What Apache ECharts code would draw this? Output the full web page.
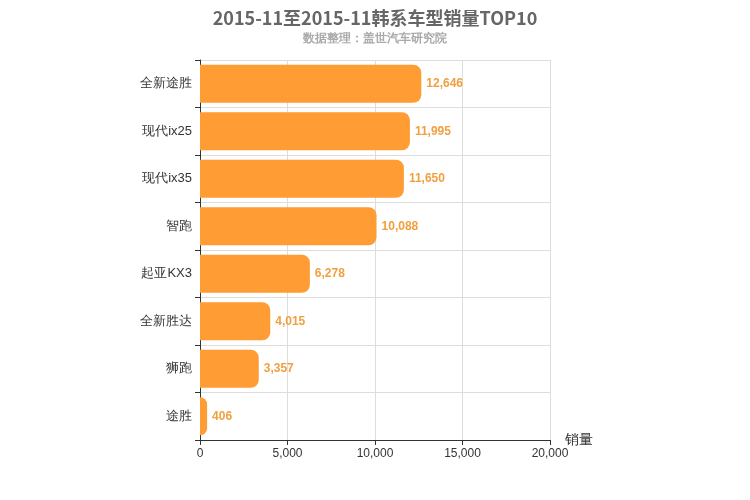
<!DOCTYPE html>
<html><head><meta charset="utf-8">
<script src="https://cdn.jsdelivr.net/npm/echarts@6/dist/echarts.min.js"></script>
</head><body style="margin:0">
<div id="c" style="width:750px;height:500px"></div>
<script>
const categories = ['全新途胜','现代ix25','现代ix35','智跑','起亚KX3','全新胜达','狮跑','途胜'];
const sales = [12646,11995,11650,10088,6278,4015,3357,406];
const xTicks = [0,5000,10000,15000,20000];
const chart = echarts.init(document.getElementById('c'));
chart.setOption({
  title:{text:'2015-11至2015-11韩系车型销量TOP10',subtext:'数据整理：盖世汽车研究院',left:'center',top:4,
    textStyle:{fontSize:18,fontWeight:'bold',color:'#666',fontFamily:'Noto Sans CJK SC'},
    subtextStyle:{fontSize:12,color:'#aaa',fontWeight:'bold'},itemGap:6},
  grid:{left:200,right:200,top:60,bottom:60},
  xAxis:{type:'value',min:xTicks[0],max:xTicks[xTicks.length-1],interval:5000,name:'销量',
    nameTextStyle:{fontSize:14,color:'#333',padding:[20,0,0,0]},
    axisLine:{show:true,lineStyle:{color:'#333'}},axisTick:{show:true},
    axisLabel:{color:'#333',fontSize:12},splitLine:{lineStyle:{color:'#ddd'}}},
  yAxis:{type:'category',data:categories,inverse:true,
    axisLine:{lineStyle:{color:'#333'}},axisTick:{show:true},
    axisLabel:{color:'#333',fontSize:13},splitLine:{show:true,lineStyle:{color:'#ddd'}}},
  series:[{type:'bar',data:sales,barWidth:'80%',
    itemStyle:{color:'#ff9c33',borderRadius:[0,8,8,0]},
    label:{show:true,position:'right',color:'#f0a040',fontWeight:'bold',fontSize:12,
      formatter:p=>p.value.toLocaleString('en-US')}}]
});
</script></body></html>
